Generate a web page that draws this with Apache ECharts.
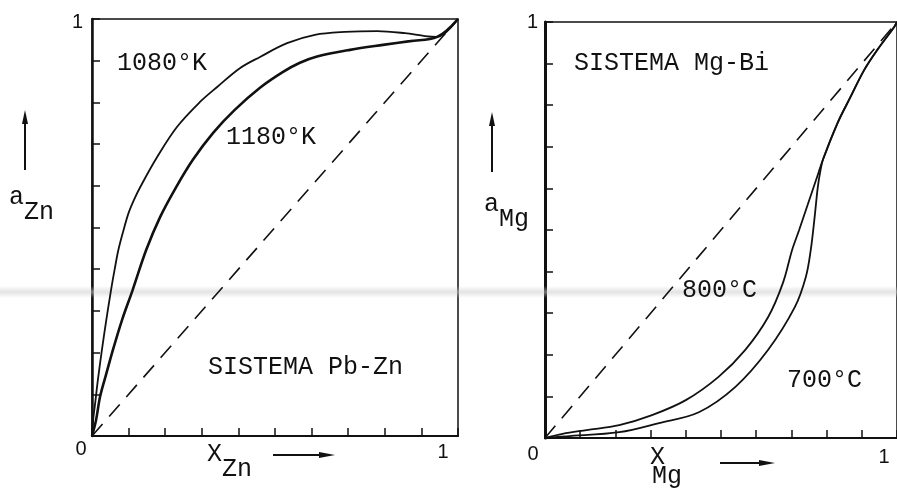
<!DOCTYPE html>
<html>
<head>
<meta charset="utf-8">
<script src="https://cdn.jsdelivr.net/npm/echarts@6/dist/echarts.min.js"></script>
<style>
  html, body { margin: 0; padding: 0; background: #fff; }
  #chart { width: 897px; height: 488px; }
</style>
</head>
<body>
<div id="chart"></div>
<script>
// Pb-Zn system: activity of Zn vs mole fraction of Zn
const pbZn1080K = [
  [0, 0], [0.003, 0.038], [0.008, 0.074], [0.016, 0.134], [0.027, 0.206],
  [0.039, 0.278], [0.052, 0.350], [0.062, 0.400], [0.072, 0.446], [0.085, 0.490],
  [0.100, 0.535], [0.115, 0.567], [0.133, 0.599], [0.178, 0.669], [0.232, 0.741],
  [0.295, 0.801], [0.342, 0.837], [0.404, 0.882], [0.459, 0.909], [0.533, 0.942],
  [0.609, 0.962], [0.691, 0.969], [0.779, 0.971], [0.855, 0.966], [0.910, 0.959],
  [0.943, 0.957], [1, 1]
];
const pbZn1180K = [
  [0, 0], [0.011, 0.038], [0.022, 0.094], [0.038, 0.146], [0.057, 0.206],
  [0.082, 0.278], [0.111, 0.350], [0.148, 0.446], [0.186, 0.525], [0.230, 0.597],
  [0.276, 0.663], [0.331, 0.727], [0.390, 0.782], [0.459, 0.835], [0.522, 0.873],
  [0.568, 0.895], [0.615, 0.910], [0.705, 0.926], [0.795, 0.938], [0.869, 0.947],
  [0.943, 0.957], [1, 1]
];
// Mg-Bi system: activity of Mg vs mole fraction of Mg
const mgBi800C = [
  [0, 0], [0.05, 0.010], [0.118, 0.019], [0.211, 0.031], [0.304, 0.055],
  [0.400, 0.091], [0.493, 0.147], [0.569, 0.212], [0.634, 0.291], [0.676, 0.373],
  [0.702, 0.452], [0.722, 0.500], [0.746, 0.560], [0.770, 0.620], [0.790, 0.670],
  [0.831, 0.757], [0.868, 0.820], [0.907, 0.885], [0.944, 0.933], [0.992, 0.988], [1, 1]
];
const mgBi700C = [
  [0, 0], [0.06, 0.004], [0.211, 0.014], [0.324, 0.036], [0.437, 0.062],
  [0.541, 0.123], [0.634, 0.212], [0.710, 0.315], [0.741, 0.387], [0.755, 0.452],
  [0.766, 0.531], [0.775, 0.603], [0.783, 0.645], [0.790, 0.670],
  [0.831, 0.757], [0.868, 0.820], [0.907, 0.885], [0.944, 0.933], [0.992, 0.988], [1, 1]
];
// Raoult's law (ideal solution)
const ideal = [[0, 0], [1, 1]];

const tickLabels = ['0', '1'];
const curveNames = ['1080°K', '1180°K', '800°C', '700°C'];
const systemNames = ['SISTEMA Pb-Zn', 'SISTEMA Mg-Bi'];

const INK = '#111';
const MONO = '"Liberation Mono", "DejaVu Sans Mono", monospace';
const SANS = '"Liberation Sans", Arial, sans-serif';

function xLabel(zeroPad, onePad) {
  return {
    margin: 3, fontSize: 20, fontFamily: SANS, color: INK,
    formatter: v => Math.abs(v) < 1e-9 ? '{z|' + tickLabels[0] + '}'
                 : Math.abs(v - 1) < 1e-9 ? '{o|' + tickLabels[1] + '}' : '',
    rich: {
      z: { fontFamily: SANS, fontSize: 20, color: INK, padding: zeroPad },
      o: { fontFamily: SANS, fontSize: 20, color: INK, padding: onePad }
    }
  };
}
function yLabel(margin, pad) {
  return {
    margin: margin, fontSize: 20, fontFamily: SANS, color: INK,
    formatter: v => Math.abs(v - 1) < 1e-9 ? '{o|' + tickLabels[1] + '}' : '',
    rich: { o: { fontFamily: SANS, fontSize: 20, color: INK, padding: pad } }
  };
}
function axisBase(width) {
  return {
    type: 'value', min: 0, max: 1, interval: 0.1,
    axisLine: { show: true, onZero: false, lineStyle: { color: INK, width: width } },
    axisTick: { show: true, inside: true, length: 8, lineStyle: { color: INK, width: 1.5 } },
    splitLine: { show: false }
  };
}

function curve(name, data, xi, width) {
  return {
    name: name, type: 'line', xAxisIndex: xi, yAxisIndex: xi, data: data,
    smooth: 0.35, showSymbol: false, silent: true, z: 3,
    lineStyle: { color: INK, width: width }
  };
}
function dashed(xi) {
  return {
    type: 'line', xAxisIndex: xi, yAxisIndex: xi, data: ideal,
    showSymbol: false, silent: true, z: 3,
    lineStyle: { color: INK, width: 1.6, type: [16, 10] }
  };
}

function txt(text, x, y, font) {
  return {
    type: 'text', x: x, y: y, z: 5,
    style: { text: text, font: font, fill: INK, align: 'left', verticalAlign: 'middle' }
  };
}
function arrowUp(x, yTop, yBottom) {
  return [
    { type: 'line', z: 5, shape: { x1: x, y1: yBottom, x2: x, y2: yTop + 6 }, style: { stroke: INK, lineWidth: 2 } },
    { type: 'polygon', z: 5, shape: { points: [[x, yTop], [x - 3, yTop + 14], [x + 3, yTop + 14]] }, style: { fill: INK } }
  ];
}
function arrowRight(xLeft, xRight, y) {
  return [
    { type: 'line', z: 5, shape: { x1: xLeft, y1: y, x2: xRight - 6, y2: y }, style: { stroke: INK, lineWidth: 2 } },
    { type: 'polygon', z: 5, shape: { points: [[xRight, y], [xRight - 16, y - 3], [xRight - 16, y + 3]] }, style: { fill: INK } }
  ];
}

const F25 = '25px ' + MONO;

const chart = echarts.init(document.getElementById('chart'), null, { renderer: 'canvas' });
chart.setOption({
  backgroundColor: '#fff',
  animation: false,
  grid: [
    { left: 92, top: 19, width: 366, height: 417, show: true, borderColor: INK, borderWidth: 1.5, backgroundColor: 'transparent' },
    { left: 545, top: 22, width: 355, height: 416, show: true, borderColor: INK, borderWidth: 1.5, backgroundColor: 'transparent' }
  ],
  xAxis: [
    Object.assign(axisBase(2), { gridIndex: 0, axisLabel: xLabel([0, 22, 0, 0], [3, 30, 0, 0]) }),
    Object.assign(axisBase(2), { gridIndex: 1, axisLabel: xLabel([3, 24, 0, 0], [6, 26, 0, 0]) })
  ],
  yAxis: [
    Object.assign(axisBase(2.5), { gridIndex: 0, axisLabel: yLabel(9, [6, 0, 0, 0]) }),
    Object.assign(axisBase(3), { gridIndex: 1, axisLabel: yLabel(7, [0, 0, 0, 0]) })
  ],
  series: [
    curve(curveNames[0], pbZn1080K, 0, 1.8),
    curve(curveNames[1], pbZn1180K, 0, 2.6),
    dashed(0),
    curve(curveNames[2], mgBi800C, 1, 1.8),
    curve(curveNames[3], mgBi700C, 1, 1.8),
    dashed(1)
  ],
  graphic: {
    elements: [
      // curve and system captions
      txt(curveNames[0], 117, 63, F25),
      txt(curveNames[1], 226, 137, F25),
      txt(systemNames[0], 208, 367, F25),
      txt(systemNames[1], 574, 63, F25),
      txt(curveNames[2], 682, 290, F25),
      txt(curveNames[3], 787, 380, F25),
      // axis titles
      txt('a', 9, 197, F25),
      txt('Zn', 24, 212, F25),
      txt('X', 207, 454, F25),
      txt('Zn', 222, 469, F25),
      txt('a', 484, 204, F25),
      txt('Mg', 499, 219, F25),
      txt('X', 650, 457, F25),
      txt('Mg', 652, 476, F25),
      ...arrowUp(25, 110, 170),
      ...arrowUp(492, 112, 172),
      ...arrowRight(273, 335, 455),
      ...arrowRight(720, 775, 463),
      // faint scanner streak across the sheet
      {
        type: 'rect', z: 1, silent: true,
        shape: { x: 0, y: 286, width: 897, height: 12 },
        style: {
          fill: new echarts.graphic.LinearGradient(0, 0, 0, 1, [
            { offset: 0, color: 'rgba(205,205,205,0)' },
            { offset: 0.5, color: 'rgba(205,205,205,0.55)' },
            { offset: 1, color: 'rgba(205,205,205,0)' }
          ])
        }
      }
    ]
  }
});
</script>
</body>
</html>
